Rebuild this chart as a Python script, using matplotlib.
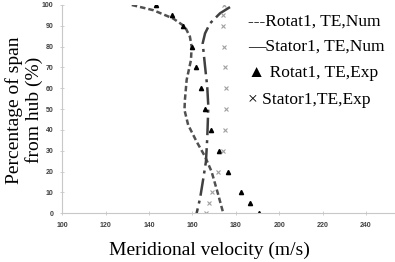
import numpy as np
import matplotlib
matplotlib.use("Agg")
import matplotlib.pyplot as plt

# span levels (%) of the measurements
span_exp = [100, 95, 90, 80, 70, 60, 50, 40, 30, 20, 10, 5, 0]
rotor_exp = [143, 150.5, 155.7, 159.6, 161.5, 163.8, 165.9, 168.5, 172.2, 176.5, 182.5, 186.7, 190.7]
stator_exp = [174.5, 174.2, 173.9, 174.5, 175.1, 175.4, 175.3, 174.8, 173.9, 171.8, 169.0, 167.6, 166.2]

# numerical profiles
rotor_num_span = [100, 97.5, 93.5, 89.6, 84.8, 80, 73.6, 64, 54.4, 49.6, 42.4, 34.4, 27.2, 20, 8.8, 0]
rotor_num_v = [132, 141.9, 151.1, 156.5, 158.8, 159.6, 159.3, 157.3, 156.5, 156.3, 158, 161.9, 165.8, 168.8, 171.9, 174.2]
stator_num_span = [99, 96, 91.2, 86.4, 81.6, 70.4, 60.8, 51.2, 36, 24.8, 16.8, 7.2, 0]
stator_num_v = [177.3, 172.7, 168.1, 165.8, 164.7, 165.8, 166.8, 167.3, 166.8, 166.2, 165, 163.5, 161.9]

legend_lines = ["---Rotat1, TE,Num", "\u2014Stator1, TE,Num",
                "\u25b2 Rotat1, TE,Exp", "\u00d7 Stator1,TE,Exp"]

fig = plt.figure(figsize=(3.95, 2.62), dpi=100)
ax = fig.add_axes([0.158, 0.186, 0.842, 0.795])

ax.plot(rotor_num_v, rotor_num_span, color="#505050", lw=1.8, dashes=(2.2, 1.2))
ax.plot(stator_num_v, stator_num_span, color="#404040", lw=1.8, dashes=(7, 2, 1.2, 2))
ax.plot(rotor_exp, span_exp, ls="none", marker="^", ms=3.0, color="black")
ax.plot(stator_exp, span_exp, ls="none", marker="x", ms=3.2, mew=0.8, color="#a0a0a0")

ax.set_xlim(100, 253.4)
ax.set_ylim(0, 100)
ax.set_xticks(np.arange(100, 241, 20))
ax.set_yticks(np.arange(0, 101, 10))
for s in ["top", "right"]:
    ax.spines[s].set_visible(False)
for s in ["left", "bottom"]:
    ax.spines[s].set_color("#c8c8c8")
    ax.spines[s].set_linewidth(0.8)
ax.tick_params(direction="inout", length=3, width=0.6, color="#c8c8c8",
               labelsize=5, labelcolor="#404040", pad=5)
for lab in ax.get_xticklabels() + ax.get_yticklabels():
    lab.set_fontweight("bold")
    lab.set_family("Liberation Sans")

fig.text(0.529, 0.045, "Meridional velocity (m/s)", ha="center", va="center",
         family="Liberation Serif", fontsize=14)
fig.text(0.062, 0.58, "Percentage of span\nfrom hub (%)", ha="center", va="center",
         rotation=90, family="Liberation Serif", fontsize=14, linespacing=1.15)

ys = [22, 47, 73, 100]
for t, y in zip(legend_lines, ys):
    fig.text(248 / 395, 1 - y / 262, t, ha="left", va="center",
             family=["Liberation Serif", "DejaVu Sans"], fontsize=12.5)

fig.savefig("out.png", dpi=100)
